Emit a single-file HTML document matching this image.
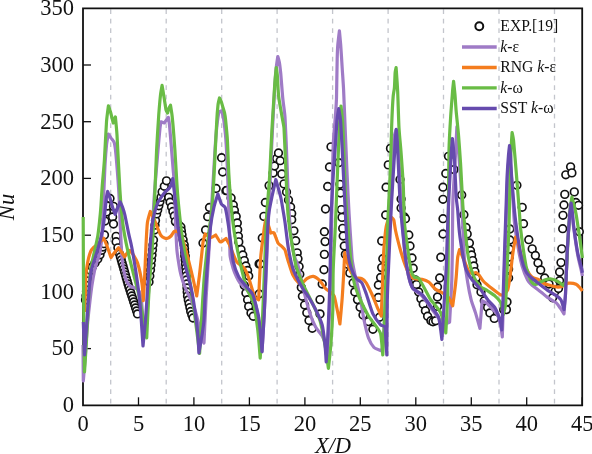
<!DOCTYPE html><html><head><meta charset="utf-8"><title>Nu vs X/D</title>
<style>html,body{margin:0;padding:0;background:#fff}svg{display:block}text{font-family:"Liberation Serif",serif;fill:#111}</style></head><body>
<svg width="592" height="454" viewBox="0 0 592 454">
<rect width="592" height="454" fill="#fff"/>
<line x1="110.7" y1="9.3" x2="110.7" y2="404.3" stroke="#c3c5cc" stroke-width="1.3" stroke-dasharray="4.7 4.8"/>
<line x1="166.2" y1="9.3" x2="166.2" y2="404.3" stroke="#c3c5cc" stroke-width="1.3" stroke-dasharray="4.7 4.8"/>
<line x1="221.7" y1="9.3" x2="221.7" y2="404.3" stroke="#c3c5cc" stroke-width="1.3" stroke-dasharray="4.7 4.8"/>
<line x1="277.1" y1="9.3" x2="277.1" y2="404.3" stroke="#c3c5cc" stroke-width="1.3" stroke-dasharray="4.7 4.8"/>
<line x1="332.6" y1="9.3" x2="332.6" y2="404.3" stroke="#c3c5cc" stroke-width="1.3" stroke-dasharray="4.7 4.8"/>
<line x1="388.1" y1="9.3" x2="388.1" y2="404.3" stroke="#c3c5cc" stroke-width="1.3" stroke-dasharray="4.7 4.8"/>
<line x1="443.5" y1="9.3" x2="443.5" y2="404.3" stroke="#c3c5cc" stroke-width="1.3" stroke-dasharray="4.7 4.8"/>
<line x1="499.0" y1="9.3" x2="499.0" y2="404.3" stroke="#c3c5cc" stroke-width="1.3" stroke-dasharray="4.7 4.8"/>
<line x1="554.5" y1="9.3" x2="554.5" y2="404.3" stroke="#c3c5cc" stroke-width="1.3" stroke-dasharray="4.7 4.8"/>
<path d="M83.0 8.3 V405.3 H582.2 V8.3 Z" fill="none" stroke="#111" stroke-width="1.8"/>
<text x="74.1" y="412.1" font-size="22.5" text-anchor="end">0</text>
<line x1="83.0" y1="348.6" x2="91.0" y2="348.6" stroke="#111" stroke-width="1.3"/>
<text x="74.1" y="355.4" font-size="22.5" text-anchor="end">50</text>
<line x1="83.0" y1="291.9" x2="91.0" y2="291.9" stroke="#111" stroke-width="1.3"/>
<text x="74.1" y="298.7" font-size="22.5" text-anchor="end">100</text>
<line x1="83.0" y1="235.2" x2="91.0" y2="235.2" stroke="#111" stroke-width="1.3"/>
<text x="74.1" y="242.0" font-size="22.5" text-anchor="end">150</text>
<line x1="83.0" y1="178.4" x2="91.0" y2="178.4" stroke="#111" stroke-width="1.3"/>
<text x="74.1" y="185.2" font-size="22.5" text-anchor="end">200</text>
<line x1="83.0" y1="121.7" x2="91.0" y2="121.7" stroke="#111" stroke-width="1.3"/>
<text x="74.1" y="128.5" font-size="22.5" text-anchor="end">250</text>
<line x1="83.0" y1="65.0" x2="91.0" y2="65.0" stroke="#111" stroke-width="1.3"/>
<text x="74.1" y="71.8" font-size="22.5" text-anchor="end">300</text>
<text x="74.1" y="15.1" font-size="22.5" text-anchor="end">350</text>
<text x="83.0" y="431.3" font-size="22.5" text-anchor="middle">0</text>
<line x1="138.5" y1="405.3" x2="138.5" y2="397.3" stroke="#111" stroke-width="1.3"/>
<text x="138.5" y="431.3" font-size="22.5" text-anchor="middle">5</text>
<line x1="193.9" y1="405.3" x2="193.9" y2="397.3" stroke="#111" stroke-width="1.3"/>
<text x="193.9" y="431.3" font-size="22.5" text-anchor="middle">10</text>
<line x1="249.4" y1="405.3" x2="249.4" y2="397.3" stroke="#111" stroke-width="1.3"/>
<text x="249.4" y="431.3" font-size="22.5" text-anchor="middle">15</text>
<line x1="304.9" y1="405.3" x2="304.9" y2="397.3" stroke="#111" stroke-width="1.3"/>
<text x="304.9" y="431.3" font-size="22.5" text-anchor="middle">20</text>
<line x1="360.3" y1="405.3" x2="360.3" y2="397.3" stroke="#111" stroke-width="1.3"/>
<text x="360.3" y="431.3" font-size="22.5" text-anchor="middle">25</text>
<line x1="415.8" y1="405.3" x2="415.8" y2="397.3" stroke="#111" stroke-width="1.3"/>
<text x="415.8" y="431.3" font-size="22.5" text-anchor="middle">30</text>
<line x1="471.3" y1="405.3" x2="471.3" y2="397.3" stroke="#111" stroke-width="1.3"/>
<text x="471.3" y="431.3" font-size="22.5" text-anchor="middle">35</text>
<line x1="526.7" y1="405.3" x2="526.7" y2="397.3" stroke="#111" stroke-width="1.3"/>
<text x="526.7" y="431.3" font-size="22.5" text-anchor="middle">40</text>
<line x1="582.2" y1="405.3" x2="582.2" y2="397.3" stroke="#111" stroke-width="1.3"/>
<text x="582.2" y="431.3" font-size="22.5" text-anchor="middle">45</text>
<circle cx="85.5" cy="300.0" r="3.85" fill="#fff" stroke="#111" stroke-width="1.65"/>
<circle cx="86.0" cy="295.7" r="3.85" fill="#fff" stroke="#111" stroke-width="1.65"/>
<circle cx="86.5" cy="291.3" r="3.85" fill="#fff" stroke="#111" stroke-width="1.65"/>
<circle cx="87.0" cy="287.0" r="3.85" fill="#fff" stroke="#111" stroke-width="1.65"/>
<circle cx="87.5" cy="282.5" r="3.85" fill="#fff" stroke="#111" stroke-width="1.65"/>
<circle cx="88.0" cy="278.0" r="3.85" fill="#fff" stroke="#111" stroke-width="1.65"/>
<circle cx="88.5" cy="273.5" r="3.85" fill="#fff" stroke="#111" stroke-width="1.65"/>
<circle cx="90.4" cy="270.2" r="3.85" fill="#fff" stroke="#111" stroke-width="1.65"/>
<circle cx="92.3" cy="266.9" r="3.85" fill="#fff" stroke="#111" stroke-width="1.65"/>
<circle cx="95.0" cy="262.9" r="3.85" fill="#fff" stroke="#111" stroke-width="1.65"/>
<circle cx="97.8" cy="259.0" r="3.85" fill="#fff" stroke="#111" stroke-width="1.65"/>
<circle cx="100.0" cy="254.7" r="3.85" fill="#fff" stroke="#111" stroke-width="1.65"/>
<circle cx="101.7" cy="250.3" r="3.85" fill="#fff" stroke="#111" stroke-width="1.65"/>
<circle cx="102.8" cy="247.0" r="3.85" fill="#fff" stroke="#111" stroke-width="1.65"/>
<circle cx="103.9" cy="243.7" r="3.85" fill="#fff" stroke="#111" stroke-width="1.65"/>
<circle cx="104.5" cy="235.0" r="3.85" fill="#fff" stroke="#111" stroke-width="1.65"/>
<circle cx="105.0" cy="221.0" r="3.85" fill="#fff" stroke="#111" stroke-width="1.65"/>
<circle cx="106.5" cy="212.0" r="3.85" fill="#fff" stroke="#111" stroke-width="1.65"/>
<circle cx="107.5" cy="206.0" r="3.85" fill="#fff" stroke="#111" stroke-width="1.65"/>
<circle cx="110.0" cy="198.5" r="3.85" fill="#fff" stroke="#111" stroke-width="1.65"/>
<circle cx="113.5" cy="206.4" r="3.85" fill="#fff" stroke="#111" stroke-width="1.65"/>
<circle cx="112.6" cy="217.0" r="3.85" fill="#fff" stroke="#111" stroke-width="1.65"/>
<circle cx="113.5" cy="224.0" r="3.85" fill="#fff" stroke="#111" stroke-width="1.65"/>
<circle cx="116.1" cy="236.4" r="3.85" fill="#fff" stroke="#111" stroke-width="1.65"/>
<circle cx="116.1" cy="241.7" r="3.85" fill="#fff" stroke="#111" stroke-width="1.65"/>
<circle cx="117.9" cy="247.8" r="3.85" fill="#fff" stroke="#111" stroke-width="1.65"/>
<circle cx="119.6" cy="254.0" r="3.85" fill="#fff" stroke="#111" stroke-width="1.65"/>
<circle cx="120.4" cy="257.0" r="3.85" fill="#fff" stroke="#111" stroke-width="1.65"/>
<circle cx="121.3" cy="260.0" r="3.85" fill="#fff" stroke="#111" stroke-width="1.65"/>
<circle cx="122.1" cy="263.0" r="3.85" fill="#fff" stroke="#111" stroke-width="1.65"/>
<circle cx="123.0" cy="266.0" r="3.85" fill="#fff" stroke="#111" stroke-width="1.65"/>
<circle cx="123.8" cy="269.0" r="3.85" fill="#fff" stroke="#111" stroke-width="1.65"/>
<circle cx="124.6" cy="272.0" r="3.85" fill="#fff" stroke="#111" stroke-width="1.65"/>
<circle cx="125.5" cy="275.0" r="3.85" fill="#fff" stroke="#111" stroke-width="1.65"/>
<circle cx="126.3" cy="278.0" r="3.85" fill="#fff" stroke="#111" stroke-width="1.65"/>
<circle cx="127.2" cy="281.0" r="3.85" fill="#fff" stroke="#111" stroke-width="1.65"/>
<circle cx="128.0" cy="284.0" r="3.85" fill="#fff" stroke="#111" stroke-width="1.65"/>
<circle cx="128.9" cy="287.0" r="3.85" fill="#fff" stroke="#111" stroke-width="1.65"/>
<circle cx="129.9" cy="290.0" r="3.85" fill="#fff" stroke="#111" stroke-width="1.65"/>
<circle cx="130.8" cy="293.0" r="3.85" fill="#fff" stroke="#111" stroke-width="1.65"/>
<circle cx="131.8" cy="296.0" r="3.85" fill="#fff" stroke="#111" stroke-width="1.65"/>
<circle cx="132.8" cy="298.9" r="3.85" fill="#fff" stroke="#111" stroke-width="1.65"/>
<circle cx="133.7" cy="301.9" r="3.85" fill="#fff" stroke="#111" stroke-width="1.65"/>
<circle cx="134.7" cy="304.9" r="3.85" fill="#fff" stroke="#111" stroke-width="1.65"/>
<circle cx="135.6" cy="307.9" r="3.85" fill="#fff" stroke="#111" stroke-width="1.65"/>
<circle cx="136.6" cy="310.9" r="3.85" fill="#fff" stroke="#111" stroke-width="1.65"/>
<circle cx="137.5" cy="313.9" r="3.85" fill="#fff" stroke="#111" stroke-width="1.65"/>
<circle cx="149.0" cy="282.0" r="3.85" fill="#fff" stroke="#111" stroke-width="1.65"/>
<circle cx="149.8" cy="276.0" r="3.85" fill="#fff" stroke="#111" stroke-width="1.65"/>
<circle cx="150.5" cy="270.0" r="3.85" fill="#fff" stroke="#111" stroke-width="1.65"/>
<circle cx="151.0" cy="265.0" r="3.85" fill="#fff" stroke="#111" stroke-width="1.65"/>
<circle cx="151.5" cy="260.0" r="3.85" fill="#fff" stroke="#111" stroke-width="1.65"/>
<circle cx="152.0" cy="255.0" r="3.85" fill="#fff" stroke="#111" stroke-width="1.65"/>
<circle cx="152.5" cy="250.0" r="3.85" fill="#fff" stroke="#111" stroke-width="1.65"/>
<circle cx="153.0" cy="245.0" r="3.85" fill="#fff" stroke="#111" stroke-width="1.65"/>
<circle cx="153.5" cy="240.0" r="3.85" fill="#fff" stroke="#111" stroke-width="1.65"/>
<circle cx="154.5" cy="230.0" r="3.85" fill="#fff" stroke="#111" stroke-width="1.65"/>
<circle cx="155.0" cy="225.2" r="3.85" fill="#fff" stroke="#111" stroke-width="1.65"/>
<circle cx="155.5" cy="220.5" r="3.85" fill="#fff" stroke="#111" stroke-width="1.65"/>
<circle cx="156.6" cy="213.9" r="3.85" fill="#fff" stroke="#111" stroke-width="1.65"/>
<circle cx="157.7" cy="209.9" r="3.85" fill="#fff" stroke="#111" stroke-width="1.65"/>
<circle cx="158.8" cy="205.8" r="3.85" fill="#fff" stroke="#111" stroke-width="1.65"/>
<circle cx="159.9" cy="201.8" r="3.85" fill="#fff" stroke="#111" stroke-width="1.65"/>
<circle cx="161.0" cy="197.4" r="3.85" fill="#fff" stroke="#111" stroke-width="1.65"/>
<circle cx="162.1" cy="191.9" r="3.85" fill="#fff" stroke="#111" stroke-width="1.65"/>
<circle cx="164.3" cy="186.3" r="3.85" fill="#fff" stroke="#111" stroke-width="1.65"/>
<circle cx="166.5" cy="180.8" r="3.85" fill="#fff" stroke="#111" stroke-width="1.65"/>
<circle cx="168.7" cy="197.4" r="3.85" fill="#fff" stroke="#111" stroke-width="1.65"/>
<circle cx="170.1" cy="202.2" r="3.85" fill="#fff" stroke="#111" stroke-width="1.65"/>
<circle cx="171.5" cy="207.0" r="3.85" fill="#fff" stroke="#111" stroke-width="1.65"/>
<circle cx="172.9" cy="211.5" r="3.85" fill="#fff" stroke="#111" stroke-width="1.65"/>
<circle cx="174.3" cy="216.0" r="3.85" fill="#fff" stroke="#111" stroke-width="1.65"/>
<circle cx="175.4" cy="221.6" r="3.85" fill="#fff" stroke="#111" stroke-width="1.65"/>
<circle cx="178.2" cy="224.3" r="3.85" fill="#fff" stroke="#111" stroke-width="1.65"/>
<circle cx="180.9" cy="227.0" r="3.85" fill="#fff" stroke="#111" stroke-width="1.65"/>
<circle cx="181.4" cy="230.9" r="3.85" fill="#fff" stroke="#111" stroke-width="1.65"/>
<circle cx="182.0" cy="234.8" r="3.85" fill="#fff" stroke="#111" stroke-width="1.65"/>
<circle cx="183.1" cy="239.8" r="3.85" fill="#fff" stroke="#111" stroke-width="1.65"/>
<circle cx="184.2" cy="244.7" r="3.85" fill="#fff" stroke="#111" stroke-width="1.65"/>
<circle cx="184.5" cy="248.5" r="3.85" fill="#fff" stroke="#111" stroke-width="1.65"/>
<circle cx="184.7" cy="252.2" r="3.85" fill="#fff" stroke="#111" stroke-width="1.65"/>
<circle cx="185.0" cy="256.0" r="3.85" fill="#fff" stroke="#111" stroke-width="1.65"/>
<circle cx="185.0" cy="256.0" r="3.85" fill="#fff" stroke="#111" stroke-width="1.65"/>
<circle cx="185.2" cy="260.0" r="3.85" fill="#fff" stroke="#111" stroke-width="1.65"/>
<circle cx="185.5" cy="264.0" r="3.85" fill="#fff" stroke="#111" stroke-width="1.65"/>
<circle cx="185.8" cy="268.0" r="3.85" fill="#fff" stroke="#111" stroke-width="1.65"/>
<circle cx="186.0" cy="272.0" r="3.85" fill="#fff" stroke="#111" stroke-width="1.65"/>
<circle cx="186.2" cy="276.0" r="3.85" fill="#fff" stroke="#111" stroke-width="1.65"/>
<circle cx="186.5" cy="280.0" r="3.85" fill="#fff" stroke="#111" stroke-width="1.65"/>
<circle cx="186.8" cy="284.0" r="3.85" fill="#fff" stroke="#111" stroke-width="1.65"/>
<circle cx="187.0" cy="288.0" r="3.85" fill="#fff" stroke="#111" stroke-width="1.65"/>
<circle cx="187.2" cy="292.0" r="3.85" fill="#fff" stroke="#111" stroke-width="1.65"/>
<circle cx="187.5" cy="296.0" r="3.85" fill="#fff" stroke="#111" stroke-width="1.65"/>
<circle cx="188.3" cy="299.9" r="3.85" fill="#fff" stroke="#111" stroke-width="1.65"/>
<circle cx="189.1" cy="303.8" r="3.85" fill="#fff" stroke="#111" stroke-width="1.65"/>
<circle cx="189.9" cy="307.6" r="3.85" fill="#fff" stroke="#111" stroke-width="1.65"/>
<circle cx="190.7" cy="311.5" r="3.85" fill="#fff" stroke="#111" stroke-width="1.65"/>
<circle cx="191.8" cy="314.8" r="3.85" fill="#fff" stroke="#111" stroke-width="1.65"/>
<circle cx="193.0" cy="318.0" r="3.85" fill="#fff" stroke="#111" stroke-width="1.65"/>
<circle cx="203.0" cy="243.0" r="3.85" fill="#fff" stroke="#111" stroke-width="1.65"/>
<circle cx="205.6" cy="230.0" r="3.85" fill="#fff" stroke="#111" stroke-width="1.65"/>
<circle cx="207.7" cy="216.7" r="3.85" fill="#fff" stroke="#111" stroke-width="1.65"/>
<circle cx="209.5" cy="207.5" r="3.85" fill="#fff" stroke="#111" stroke-width="1.65"/>
<circle cx="216.1" cy="188.5" r="3.85" fill="#fff" stroke="#111" stroke-width="1.65"/>
<circle cx="221.6" cy="157.7" r="3.85" fill="#fff" stroke="#111" stroke-width="1.65"/>
<circle cx="222.7" cy="172.0" r="3.85" fill="#fff" stroke="#111" stroke-width="1.65"/>
<circle cx="226.0" cy="190.7" r="3.85" fill="#fff" stroke="#111" stroke-width="1.65"/>
<circle cx="226.7" cy="190.5" r="3.85" fill="#fff" stroke="#111" stroke-width="1.65"/>
<circle cx="231.1" cy="198.0" r="3.85" fill="#fff" stroke="#111" stroke-width="1.65"/>
<circle cx="233.3" cy="205.0" r="3.85" fill="#fff" stroke="#111" stroke-width="1.65"/>
<circle cx="234.4" cy="210.3" r="3.85" fill="#fff" stroke="#111" stroke-width="1.65"/>
<circle cx="235.5" cy="215.8" r="3.85" fill="#fff" stroke="#111" stroke-width="1.65"/>
<circle cx="236.2" cy="216.5" r="3.85" fill="#fff" stroke="#111" stroke-width="1.65"/>
<circle cx="237.3" cy="223.0" r="3.85" fill="#fff" stroke="#111" stroke-width="1.65"/>
<circle cx="237.7" cy="229.7" r="3.85" fill="#fff" stroke="#111" stroke-width="1.65"/>
<circle cx="238.4" cy="236.3" r="3.85" fill="#fff" stroke="#111" stroke-width="1.65"/>
<circle cx="238.8" cy="241.9" r="3.85" fill="#fff" stroke="#111" stroke-width="1.65"/>
<circle cx="241.0" cy="249.6" r="3.85" fill="#fff" stroke="#111" stroke-width="1.65"/>
<circle cx="242.8" cy="255.0" r="3.85" fill="#fff" stroke="#111" stroke-width="1.65"/>
<circle cx="244.3" cy="260.6" r="3.85" fill="#fff" stroke="#111" stroke-width="1.65"/>
<circle cx="245.9" cy="266.0" r="3.85" fill="#fff" stroke="#111" stroke-width="1.65"/>
<circle cx="247.6" cy="270.5" r="3.85" fill="#fff" stroke="#111" stroke-width="1.65"/>
<circle cx="248.7" cy="276.0" r="3.85" fill="#fff" stroke="#111" stroke-width="1.65"/>
<circle cx="244.3" cy="285.5" r="3.85" fill="#fff" stroke="#111" stroke-width="1.65"/>
<circle cx="245.9" cy="293.0" r="3.85" fill="#fff" stroke="#111" stroke-width="1.65"/>
<circle cx="247.6" cy="299.8" r="3.85" fill="#fff" stroke="#111" stroke-width="1.65"/>
<circle cx="248.7" cy="306.4" r="3.85" fill="#fff" stroke="#111" stroke-width="1.65"/>
<circle cx="251.0" cy="313.0" r="3.85" fill="#fff" stroke="#111" stroke-width="1.65"/>
<circle cx="253.2" cy="316.3" r="3.85" fill="#fff" stroke="#111" stroke-width="1.65"/>
<circle cx="259.1" cy="294.0" r="3.85" fill="#fff" stroke="#111" stroke-width="1.65"/>
<circle cx="259.1" cy="263.9" r="3.85" fill="#fff" stroke="#111" stroke-width="1.65"/>
<circle cx="260.2" cy="264.0" r="3.85" fill="#fff" stroke="#111" stroke-width="1.65"/>
<circle cx="262.3" cy="238.0" r="3.85" fill="#fff" stroke="#111" stroke-width="1.65"/>
<circle cx="263.9" cy="216.4" r="3.85" fill="#fff" stroke="#111" stroke-width="1.65"/>
<circle cx="265.4" cy="202.5" r="3.85" fill="#fff" stroke="#111" stroke-width="1.65"/>
<circle cx="269.1" cy="185.6" r="3.85" fill="#fff" stroke="#111" stroke-width="1.65"/>
<circle cx="273.1" cy="173.0" r="3.85" fill="#fff" stroke="#111" stroke-width="1.65"/>
<circle cx="274.5" cy="166.0" r="3.85" fill="#fff" stroke="#111" stroke-width="1.65"/>
<circle cx="276.7" cy="158.5" r="3.85" fill="#fff" stroke="#111" stroke-width="1.65"/>
<circle cx="278.5" cy="153.0" r="3.85" fill="#fff" stroke="#111" stroke-width="1.65"/>
<circle cx="280.2" cy="160.7" r="3.85" fill="#fff" stroke="#111" stroke-width="1.65"/>
<circle cx="281.8" cy="174.0" r="3.85" fill="#fff" stroke="#111" stroke-width="1.65"/>
<circle cx="284.0" cy="183.9" r="3.85" fill="#fff" stroke="#111" stroke-width="1.65"/>
<circle cx="286.5" cy="192.0" r="3.85" fill="#fff" stroke="#111" stroke-width="1.65"/>
<circle cx="288.5" cy="200.0" r="3.85" fill="#fff" stroke="#111" stroke-width="1.65"/>
<circle cx="290.6" cy="207.0" r="3.85" fill="#fff" stroke="#111" stroke-width="1.65"/>
<circle cx="291.7" cy="213.6" r="3.85" fill="#fff" stroke="#111" stroke-width="1.65"/>
<circle cx="291.7" cy="219.8" r="3.85" fill="#fff" stroke="#111" stroke-width="1.65"/>
<circle cx="293.9" cy="230.8" r="3.85" fill="#fff" stroke="#111" stroke-width="1.65"/>
<circle cx="295.7" cy="240.7" r="3.85" fill="#fff" stroke="#111" stroke-width="1.65"/>
<circle cx="297.2" cy="252.9" r="3.85" fill="#fff" stroke="#111" stroke-width="1.65"/>
<circle cx="298.0" cy="258.8" r="3.85" fill="#fff" stroke="#111" stroke-width="1.65"/>
<circle cx="299.1" cy="266.5" r="3.85" fill="#fff" stroke="#111" stroke-width="1.65"/>
<circle cx="299.8" cy="274.2" r="3.85" fill="#fff" stroke="#111" stroke-width="1.65"/>
<circle cx="301.3" cy="287.4" r="3.85" fill="#fff" stroke="#111" stroke-width="1.65"/>
<circle cx="302.4" cy="296.3" r="3.85" fill="#fff" stroke="#111" stroke-width="1.65"/>
<circle cx="304.6" cy="305.0" r="3.85" fill="#fff" stroke="#111" stroke-width="1.65"/>
<circle cx="306.8" cy="312.8" r="3.85" fill="#fff" stroke="#111" stroke-width="1.65"/>
<circle cx="309.0" cy="320.5" r="3.85" fill="#fff" stroke="#111" stroke-width="1.65"/>
<circle cx="312.3" cy="328.2" r="3.85" fill="#fff" stroke="#111" stroke-width="1.65"/>
<circle cx="320.0" cy="313.9" r="3.85" fill="#fff" stroke="#111" stroke-width="1.65"/>
<circle cx="320.0" cy="299.6" r="3.85" fill="#fff" stroke="#111" stroke-width="1.65"/>
<circle cx="322.2" cy="284.0" r="3.85" fill="#fff" stroke="#111" stroke-width="1.65"/>
<circle cx="324.0" cy="269.8" r="3.85" fill="#fff" stroke="#111" stroke-width="1.65"/>
<circle cx="324.4" cy="254.4" r="3.85" fill="#fff" stroke="#111" stroke-width="1.65"/>
<circle cx="325.1" cy="241.6" r="3.85" fill="#fff" stroke="#111" stroke-width="1.65"/>
<circle cx="324.4" cy="231.7" r="3.85" fill="#fff" stroke="#111" stroke-width="1.65"/>
<circle cx="325.5" cy="209.0" r="3.85" fill="#fff" stroke="#111" stroke-width="1.65"/>
<circle cx="327.7" cy="186.5" r="3.85" fill="#fff" stroke="#111" stroke-width="1.65"/>
<circle cx="329.5" cy="167.0" r="3.85" fill="#fff" stroke="#111" stroke-width="1.65"/>
<circle cx="331.0" cy="146.8" r="3.85" fill="#fff" stroke="#111" stroke-width="1.65"/>
<circle cx="338.7" cy="162.7" r="3.85" fill="#fff" stroke="#111" stroke-width="1.65"/>
<circle cx="339.9" cy="184.3" r="3.85" fill="#fff" stroke="#111" stroke-width="1.65"/>
<circle cx="340.5" cy="193.0" r="3.85" fill="#fff" stroke="#111" stroke-width="1.65"/>
<circle cx="341.4" cy="209.6" r="3.85" fill="#fff" stroke="#111" stroke-width="1.65"/>
<circle cx="342.0" cy="217.4" r="3.85" fill="#fff" stroke="#111" stroke-width="1.65"/>
<circle cx="342.7" cy="228.4" r="3.85" fill="#fff" stroke="#111" stroke-width="1.65"/>
<circle cx="343.2" cy="236.0" r="3.85" fill="#fff" stroke="#111" stroke-width="1.65"/>
<circle cx="344.3" cy="246.0" r="3.85" fill="#fff" stroke="#111" stroke-width="1.65"/>
<circle cx="345.4" cy="254.4" r="3.85" fill="#fff" stroke="#111" stroke-width="1.65"/>
<circle cx="347.6" cy="264.3" r="3.85" fill="#fff" stroke="#111" stroke-width="1.65"/>
<circle cx="349.8" cy="273.0" r="3.85" fill="#fff" stroke="#111" stroke-width="1.65"/>
<circle cx="353.1" cy="283.0" r="3.85" fill="#fff" stroke="#111" stroke-width="1.65"/>
<circle cx="354.8" cy="291.9" r="3.85" fill="#fff" stroke="#111" stroke-width="1.65"/>
<circle cx="357.5" cy="299.6" r="3.85" fill="#fff" stroke="#111" stroke-width="1.65"/>
<circle cx="360.1" cy="307.3" r="3.85" fill="#fff" stroke="#111" stroke-width="1.65"/>
<circle cx="363.0" cy="315.0" r="3.85" fill="#fff" stroke="#111" stroke-width="1.65"/>
<circle cx="368.5" cy="321.6" r="3.85" fill="#fff" stroke="#111" stroke-width="1.65"/>
<circle cx="372.9" cy="329.3" r="3.85" fill="#fff" stroke="#111" stroke-width="1.65"/>
<circle cx="379.5" cy="317.2" r="3.85" fill="#fff" stroke="#111" stroke-width="1.65"/>
<circle cx="378.4" cy="297.4" r="3.85" fill="#fff" stroke="#111" stroke-width="1.65"/>
<circle cx="378.4" cy="285.0" r="3.85" fill="#fff" stroke="#111" stroke-width="1.65"/>
<circle cx="380.6" cy="277.5" r="3.85" fill="#fff" stroke="#111" stroke-width="1.65"/>
<circle cx="381.7" cy="267.6" r="3.85" fill="#fff" stroke="#111" stroke-width="1.65"/>
<circle cx="382.8" cy="258.8" r="3.85" fill="#fff" stroke="#111" stroke-width="1.65"/>
<circle cx="381.7" cy="241.0" r="3.85" fill="#fff" stroke="#111" stroke-width="1.65"/>
<circle cx="385.7" cy="215.0" r="3.85" fill="#fff" stroke="#111" stroke-width="1.65"/>
<circle cx="386.1" cy="187.2" r="3.85" fill="#fff" stroke="#111" stroke-width="1.65"/>
<circle cx="388.3" cy="164.9" r="3.85" fill="#fff" stroke="#111" stroke-width="1.65"/>
<circle cx="390.5" cy="148.4" r="3.85" fill="#fff" stroke="#111" stroke-width="1.65"/>
<circle cx="400.0" cy="179.5" r="3.85" fill="#fff" stroke="#111" stroke-width="1.65"/>
<circle cx="401.1" cy="199.0" r="3.85" fill="#fff" stroke="#111" stroke-width="1.65"/>
<circle cx="401.1" cy="208.0" r="3.85" fill="#fff" stroke="#111" stroke-width="1.65"/>
<circle cx="404.4" cy="217.0" r="3.85" fill="#fff" stroke="#111" stroke-width="1.65"/>
<circle cx="405.5" cy="218.7" r="3.85" fill="#fff" stroke="#111" stroke-width="1.65"/>
<circle cx="408.8" cy="235.0" r="3.85" fill="#fff" stroke="#111" stroke-width="1.65"/>
<circle cx="410.0" cy="246.0" r="3.85" fill="#fff" stroke="#111" stroke-width="1.65"/>
<circle cx="412.0" cy="258.0" r="3.85" fill="#fff" stroke="#111" stroke-width="1.65"/>
<circle cx="413.2" cy="268.3" r="3.85" fill="#fff" stroke="#111" stroke-width="1.65"/>
<circle cx="415.4" cy="280.0" r="3.85" fill="#fff" stroke="#111" stroke-width="1.65"/>
<circle cx="416.5" cy="284.4" r="3.85" fill="#fff" stroke="#111" stroke-width="1.65"/>
<circle cx="418.7" cy="292.0" r="3.85" fill="#fff" stroke="#111" stroke-width="1.65"/>
<circle cx="420.9" cy="298.7" r="3.85" fill="#fff" stroke="#111" stroke-width="1.65"/>
<circle cx="423.2" cy="304.2" r="3.85" fill="#fff" stroke="#111" stroke-width="1.65"/>
<circle cx="425.4" cy="310.8" r="3.85" fill="#fff" stroke="#111" stroke-width="1.65"/>
<circle cx="427.6" cy="316.3" r="3.85" fill="#fff" stroke="#111" stroke-width="1.65"/>
<circle cx="430.9" cy="320.7" r="3.85" fill="#fff" stroke="#111" stroke-width="1.65"/>
<circle cx="433.0" cy="321.8" r="3.85" fill="#fff" stroke="#111" stroke-width="1.65"/>
<circle cx="435.7" cy="320.7" r="3.85" fill="#fff" stroke="#111" stroke-width="1.65"/>
<circle cx="437.5" cy="306.4" r="3.85" fill="#fff" stroke="#111" stroke-width="1.65"/>
<circle cx="437.5" cy="297.0" r="3.85" fill="#fff" stroke="#111" stroke-width="1.65"/>
<circle cx="437.5" cy="287.0" r="3.85" fill="#fff" stroke="#111" stroke-width="1.65"/>
<circle cx="439.7" cy="278.0" r="3.85" fill="#fff" stroke="#111" stroke-width="1.65"/>
<circle cx="440.8" cy="257.3" r="3.85" fill="#fff" stroke="#111" stroke-width="1.65"/>
<circle cx="443.0" cy="234.0" r="3.85" fill="#fff" stroke="#111" stroke-width="1.65"/>
<circle cx="443.0" cy="218.7" r="3.85" fill="#fff" stroke="#111" stroke-width="1.65"/>
<circle cx="443.0" cy="199.3" r="3.85" fill="#fff" stroke="#111" stroke-width="1.65"/>
<circle cx="443.0" cy="187.2" r="3.85" fill="#fff" stroke="#111" stroke-width="1.65"/>
<circle cx="445.8" cy="173.5" r="3.85" fill="#fff" stroke="#111" stroke-width="1.65"/>
<circle cx="448.5" cy="156.3" r="3.85" fill="#fff" stroke="#111" stroke-width="1.65"/>
<circle cx="454.0" cy="169.6" r="3.85" fill="#fff" stroke="#111" stroke-width="1.65"/>
<circle cx="461.7" cy="195.0" r="3.85" fill="#fff" stroke="#111" stroke-width="1.65"/>
<circle cx="463.9" cy="214.7" r="3.85" fill="#fff" stroke="#111" stroke-width="1.65"/>
<circle cx="466.1" cy="227.5" r="3.85" fill="#fff" stroke="#111" stroke-width="1.65"/>
<circle cx="467.2" cy="234.0" r="3.85" fill="#fff" stroke="#111" stroke-width="1.65"/>
<circle cx="469.4" cy="243.0" r="3.85" fill="#fff" stroke="#111" stroke-width="1.65"/>
<circle cx="470.5" cy="250.7" r="3.85" fill="#fff" stroke="#111" stroke-width="1.65"/>
<circle cx="471.6" cy="255.0" r="3.85" fill="#fff" stroke="#111" stroke-width="1.65"/>
<circle cx="472.7" cy="260.6" r="3.85" fill="#fff" stroke="#111" stroke-width="1.65"/>
<circle cx="473.8" cy="266.0" r="3.85" fill="#fff" stroke="#111" stroke-width="1.65"/>
<circle cx="474.9" cy="271.6" r="3.85" fill="#fff" stroke="#111" stroke-width="1.65"/>
<circle cx="476.0" cy="278.2" r="3.85" fill="#fff" stroke="#111" stroke-width="1.65"/>
<circle cx="477.0" cy="284.8" r="3.85" fill="#fff" stroke="#111" stroke-width="1.65"/>
<circle cx="481.0" cy="292.0" r="3.85" fill="#fff" stroke="#111" stroke-width="1.65"/>
<circle cx="484.3" cy="300.7" r="3.85" fill="#fff" stroke="#111" stroke-width="1.65"/>
<circle cx="487.6" cy="307.4" r="3.85" fill="#fff" stroke="#111" stroke-width="1.65"/>
<circle cx="489.9" cy="312.9" r="3.85" fill="#fff" stroke="#111" stroke-width="1.65"/>
<circle cx="494.3" cy="318.4" r="3.85" fill="#fff" stroke="#111" stroke-width="1.65"/>
<circle cx="503.7" cy="309.7" r="3.85" fill="#fff" stroke="#111" stroke-width="1.65"/>
<circle cx="506.4" cy="309.6" r="3.85" fill="#fff" stroke="#111" stroke-width="1.65"/>
<circle cx="507.0" cy="301.9" r="3.85" fill="#fff" stroke="#111" stroke-width="1.65"/>
<circle cx="508.6" cy="278.0" r="3.85" fill="#fff" stroke="#111" stroke-width="1.65"/>
<circle cx="508.6" cy="269.0" r="3.85" fill="#fff" stroke="#111" stroke-width="1.65"/>
<circle cx="509.3" cy="257.0" r="3.85" fill="#fff" stroke="#111" stroke-width="1.65"/>
<circle cx="509.3" cy="249.0" r="3.85" fill="#fff" stroke="#111" stroke-width="1.65"/>
<circle cx="509.9" cy="240.0" r="3.85" fill="#fff" stroke="#111" stroke-width="1.65"/>
<circle cx="509.9" cy="229.0" r="3.85" fill="#fff" stroke="#111" stroke-width="1.65"/>
<circle cx="516.9" cy="185.3" r="3.85" fill="#fff" stroke="#111" stroke-width="1.65"/>
<circle cx="522.2" cy="207.3" r="3.85" fill="#fff" stroke="#111" stroke-width="1.65"/>
<circle cx="523.5" cy="223.7" r="3.85" fill="#fff" stroke="#111" stroke-width="1.65"/>
<circle cx="528.8" cy="239.7" r="3.85" fill="#fff" stroke="#111" stroke-width="1.65"/>
<circle cx="532.2" cy="248.9" r="3.85" fill="#fff" stroke="#111" stroke-width="1.65"/>
<circle cx="535.4" cy="255.5" r="3.85" fill="#fff" stroke="#111" stroke-width="1.65"/>
<circle cx="538.0" cy="263.0" r="3.85" fill="#fff" stroke="#111" stroke-width="1.65"/>
<circle cx="540.7" cy="270.0" r="3.85" fill="#fff" stroke="#111" stroke-width="1.65"/>
<circle cx="544.7" cy="278.0" r="3.85" fill="#fff" stroke="#111" stroke-width="1.65"/>
<circle cx="549.0" cy="284.0" r="3.85" fill="#fff" stroke="#111" stroke-width="1.65"/>
<circle cx="552.6" cy="297.8" r="3.85" fill="#fff" stroke="#111" stroke-width="1.65"/>
<circle cx="555.2" cy="291.2" r="3.85" fill="#fff" stroke="#111" stroke-width="1.65"/>
<circle cx="558.5" cy="288.5" r="3.85" fill="#fff" stroke="#111" stroke-width="1.65"/>
<circle cx="559.6" cy="280.8" r="3.85" fill="#fff" stroke="#111" stroke-width="1.65"/>
<circle cx="559.6" cy="272.0" r="3.85" fill="#fff" stroke="#111" stroke-width="1.65"/>
<circle cx="561.0" cy="262.6" r="3.85" fill="#fff" stroke="#111" stroke-width="1.65"/>
<circle cx="561.8" cy="248.8" r="3.85" fill="#fff" stroke="#111" stroke-width="1.65"/>
<circle cx="562.7" cy="228.7" r="3.85" fill="#fff" stroke="#111" stroke-width="1.65"/>
<circle cx="563.0" cy="215.3" r="3.85" fill="#fff" stroke="#111" stroke-width="1.65"/>
<circle cx="564.0" cy="205.0" r="3.85" fill="#fff" stroke="#111" stroke-width="1.65"/>
<circle cx="564.8" cy="194.4" r="3.85" fill="#fff" stroke="#111" stroke-width="1.65"/>
<circle cx="565.8" cy="174.8" r="3.85" fill="#fff" stroke="#111" stroke-width="1.65"/>
<circle cx="570.6" cy="166.8" r="3.85" fill="#fff" stroke="#111" stroke-width="1.65"/>
<circle cx="571.9" cy="172.9" r="3.85" fill="#fff" stroke="#111" stroke-width="1.65"/>
<circle cx="574.3" cy="191.9" r="3.85" fill="#fff" stroke="#111" stroke-width="1.65"/>
<circle cx="575.9" cy="202.5" r="3.85" fill="#fff" stroke="#111" stroke-width="1.65"/>
<circle cx="578.5" cy="205.3" r="3.85" fill="#fff" stroke="#111" stroke-width="1.65"/>
<circle cx="579.3" cy="231.7" r="3.85" fill="#fff" stroke="#111" stroke-width="1.65"/>
<path d="M83.0 345.0 C83.0 345.0 83.3 381.0 83.3 381.0 C83.3 381.0 84.6 365.6 85.0 360.0 C85.4 354.4 86.5 336.7 87.0 330.0 C87.5 323.3 88.9 310.3 89.5 305.0 C90.1 299.7 91.4 288.8 92.0 285.0 C92.6 281.2 94.0 273.4 94.5 271.0 C95.0 268.6 96.3 264.4 97.0 262.0 C97.7 259.6 99.5 254.7 100.0 252.0 C100.5 249.3 101.7 239.6 102.0 235.0 C102.3 230.4 103.1 209.3 103.5 200.0 C103.9 190.7 104.7 170.3 105.0 165.0 C105.3 159.7 106.2 148.0 106.5 145.0 C106.8 142.0 108.4 134.0 108.4 134.0 C108.4 134.0 110.3 136.9 111.0 138.0 C111.7 139.1 113.9 141.4 114.3 142.9 C114.7 144.4 115.7 151.8 116.0 155.0 C116.3 158.2 118.1 180.7 118.7 190.0 C119.3 199.3 120.1 222.5 120.5 230.0 C120.9 237.5 121.5 252.7 122.0 258.0 C122.5 263.3 124.7 275.0 125.4 277.5 C126.1 280.0 128.3 284.4 130.0 286.0 C131.7 287.6 136.6 287.7 138.0 289.5 C139.4 291.3 141.1 297.8 141.5 301.0 C141.9 304.2 144.0 335.0 144.0 335.0 C144.0 335.0 145.9 331.4 146.0 330.0 C146.1 328.6 149.0 286.0 150.0 270.0 C151.0 254.0 153.1 213.3 154.0 200.0 C154.9 186.7 157.5 155.9 158.0 150.0 C158.5 144.1 159.8 129.7 160.0 128.0 C160.2 126.3 161.0 121.8 161.0 121.8 C161.0 121.8 164.3 122.9 164.3 122.9 C164.3 122.9 166.0 120.7 166.5 120.0 C167.0 119.3 168.3 117.4 168.3 117.4 C168.3 117.4 169.3 123.0 169.5 125.0 C169.7 127.0 170.6 138.0 171.0 142.7 C171.4 147.4 172.9 166.5 173.2 170.0 C173.5 173.5 174.1 179.5 174.3 183.0 C174.5 186.5 175.2 212.0 175.5 220.0 C175.8 228.0 176.6 246.0 176.9 250.0 C177.2 254.0 178.6 262.3 179.0 265.0 C179.4 267.7 180.3 272.4 181.0 275.0 C181.7 277.6 184.2 285.3 185.3 288.0 C186.4 290.7 188.8 295.3 190.0 298.0 C191.2 300.7 193.9 306.7 195.0 310.0 C196.1 313.3 198.1 321.5 199.0 325.0 C199.9 328.5 201.6 336.6 202.0 338.0 C202.4 339.4 204.0 343.0 204.0 343.0 C204.0 343.0 205.4 311.5 206.0 300.0 C206.6 288.5 208.2 263.3 209.0 250.0 C209.8 236.7 211.2 213.3 212.0 200.0 C212.8 186.7 214.6 156.7 215.0 150.0 C215.4 143.3 216.6 128.5 217.0 125.0 C217.4 121.5 218.8 112.7 219.0 112.0 C219.2 111.3 221.6 110.7 221.6 110.7 C221.6 110.7 223.2 116.0 223.5 118.0 C223.8 120.0 225.1 130.5 225.5 135.0 C225.9 139.5 226.7 153.3 227.0 160.0 C227.3 166.7 228.2 189.3 228.5 200.0 C228.8 210.7 229.8 251.4 230.0 255.0 C230.2 258.6 232.3 265.5 233.0 268.0 C233.7 270.5 235.8 275.3 236.6 277.0 C237.4 278.7 238.9 281.6 240.0 283.0 C241.1 284.4 245.4 287.9 247.0 290.0 C248.6 292.1 253.8 298.3 255.0 302.0 C256.2 305.7 259.2 324.2 260.0 330.0 C260.8 335.8 262.0 352.0 262.0 352.0 C262.0 352.0 264.3 313.9 265.0 300.0 C265.7 286.1 267.2 248.7 268.0 230.0 C268.8 211.3 270.3 176.0 271.0 160.0 C271.7 144.0 273.6 108.0 274.0 100.0 C274.4 92.0 275.7 73.6 276.0 70.0 C276.3 66.4 277.8 56.5 277.8 56.5 C277.8 56.5 279.0 60.5 279.3 62.0 C279.6 63.5 280.4 70.1 280.7 73.0 C281.0 75.9 282.4 94.8 282.9 99.5 C283.4 104.2 284.7 112.3 285.0 117.0 C285.3 121.7 286.1 141.2 286.5 150.0 C286.9 158.8 287.6 180.7 288.0 190.0 C288.4 199.3 289.6 219.7 290.0 225.0 C290.4 230.3 291.5 241.5 292.0 245.0 C292.5 248.5 294.4 256.0 295.0 258.0 C295.6 260.0 297.5 263.3 298.0 265.4 C298.5 267.5 303.3 288.7 304.6 294.0 C305.9 299.3 308.9 310.3 310.1 313.9 C311.3 317.5 314.2 324.4 315.6 327.0 C317.0 329.6 321.0 333.8 322.2 336.0 C323.4 338.2 325.0 342.5 325.5 345.0 C326.0 347.5 327.0 360.0 327.0 360.0 C327.0 360.0 329.5 316.0 330.0 300.0 C330.5 284.0 331.7 214.7 332.0 200.0 C332.3 185.3 332.9 153.0 333.2 145.0 C333.5 137.0 335.2 119.5 335.5 115.0 C335.8 110.5 336.4 102.5 336.5 98.0 C336.6 93.5 337.1 62.1 337.2 58.5 C337.3 54.9 337.5 48.6 337.8 45.0 C338.1 41.4 339.4 30.9 339.4 30.9 C339.4 30.9 340.4 41.2 340.7 45.0 C341.0 48.8 341.7 59.7 342.0 65.0 C342.3 70.3 343.3 83.3 343.6 90.0 C343.9 96.7 345.0 124.4 345.4 134.0 C345.8 143.6 346.5 160.4 346.9 170.0 C347.3 179.6 348.4 202.3 349.1 214.0 C349.8 225.7 351.6 253.4 352.0 258.0 C352.4 262.6 354.5 272.3 355.0 275.0 C355.5 277.7 356.9 282.3 357.5 285.0 C358.1 287.7 360.0 296.5 360.8 300.7 C361.6 304.9 363.1 315.8 364.1 320.5 C365.1 325.2 367.5 335.3 368.5 338.0 C369.5 340.7 372.9 346.3 374.0 347.5 C375.1 348.7 378.8 349.7 379.5 350.0 C380.2 350.3 382.0 351.0 382.0 351.0 C382.0 351.0 383.6 335.6 384.0 330.0 C384.4 324.4 385.5 300.7 386.0 290.0 C386.5 279.3 387.9 244.7 388.5 230.0 C389.1 215.3 390.5 184.3 391.0 175.0 C391.5 165.7 393.2 142.7 393.5 140.0 C393.8 137.3 396.0 130.0 396.0 130.0 C396.0 130.0 398.1 144.6 398.5 150.0 C398.9 155.4 400.3 188.3 401.0 200.0 C401.7 211.7 403.5 238.1 404.0 244.0 C404.5 249.9 405.9 261.7 406.6 266.0 C407.3 270.3 409.4 280.0 410.0 282.0 C410.6 284.0 411.9 287.4 413.2 289.0 C414.5 290.6 420.0 293.8 422.0 296.0 C424.0 298.2 428.5 304.8 430.9 308.0 C433.3 311.2 438.5 318.6 440.0 320.0 C441.5 321.4 446.3 322.8 447.0 323.0 C447.7 323.2 449.5 322.7 449.6 322.0 C449.7 321.3 450.4 307.3 450.7 302.0 C451.0 296.7 451.6 285.9 451.8 280.0 C452.0 274.1 452.3 253.6 452.4 244.0 C452.5 234.4 452.6 209.6 452.9 200.0 C453.2 190.4 454.5 173.6 455.0 164.0 C455.5 154.4 456.9 126.6 456.9 126.6 C456.9 126.6 458.9 155.2 459.5 164.0 C460.1 172.8 461.2 188.2 461.7 197.0 C462.2 205.8 462.6 222.0 463.0 230.0 C463.4 238.0 463.9 253.8 464.5 260.0 C465.1 266.2 467.1 278.5 467.8 283.0 C468.5 287.5 470.2 296.0 471.1 299.6 C472.0 303.2 474.4 309.3 475.5 312.9 C476.6 316.5 479.9 328.3 479.9 328.3 C479.9 328.3 480.7 318.5 481.0 315.0 C481.3 311.5 482.1 300.7 482.1 300.7 C482.1 300.7 485.5 302.2 486.5 303.0 C487.5 303.8 490.6 307.0 492.0 308.5 C493.4 310.0 496.6 313.0 497.6 315.0 C498.6 317.0 499.9 322.3 500.5 325.0 C501.1 327.7 502.3 337.0 502.3 337.0 C502.3 337.0 503.2 309.9 503.5 300.0 C503.8 290.1 504.6 265.5 505.0 252.9 C505.4 240.3 506.5 208.0 506.8 200.0 C507.1 192.0 507.8 174.0 508.0 170.0 C508.2 166.0 509.5 155.0 509.5 155.0 C509.5 155.0 510.7 166.0 511.0 170.0 C511.3 174.0 512.6 194.4 513.0 200.0 C513.4 205.6 513.7 215.4 514.3 221.0 C514.9 226.6 517.4 243.2 518.2 248.0 C519.0 252.8 521.0 262.2 522.1 266.0 C523.2 269.8 526.9 278.6 527.6 280.0 C528.3 281.4 530.2 283.5 531.4 284.6 C532.6 285.7 539.1 290.5 540.9 291.9 C542.7 293.3 545.6 296.1 547.5 297.4 C549.4 298.7 554.9 301.7 556.3 302.9 C557.7 304.1 559.5 307.0 560.5 308.4 C561.5 309.8 564.0 313.9 564.0 313.9 C564.0 313.9 565.2 299.3 565.5 294.0 C565.8 288.7 566.8 259.3 567.3 250.0 C567.8 240.7 569.6 217.2 569.8 215.0 C570.0 212.8 571.1 207.0 571.1 207.0 C571.1 207.0 572.1 212.1 572.3 214.0 C572.5 215.9 573.2 224.3 573.7 228.0 C574.2 231.7 576.9 250.4 577.7 255.0 C578.5 259.6 581.4 270.9 581.6 272.0 C581.8 273.1 582.4 276.0 582.4 276.0" fill="none" stroke="#9f7bc6" stroke-width="3.2" stroke-linejoin="round" stroke-linecap="butt"/>
<path d="M84.5 312.0 C84.5 312.0 85.1 299.5 85.3 295.0 C85.5 290.5 85.6 278.7 85.9 275.0 C86.2 271.3 87.4 264.0 87.9 261.3 C88.4 258.6 90.2 252.6 90.7 251.4 C91.2 250.2 92.6 248.4 93.4 247.6 C94.2 246.8 96.1 245.8 97.0 245.0 C97.9 244.2 99.7 242.4 100.5 241.5 C101.3 240.6 103.6 238.2 103.6 238.2 C103.6 238.2 106.2 243.9 107.0 246.0 C107.8 248.1 111.0 257.5 111.0 257.5 C111.0 257.5 114.1 253.2 115.0 252.0 C115.9 250.8 118.5 247.8 118.5 247.8 C118.5 247.8 120.7 250.9 121.5 252.0 C122.3 253.1 124.6 256.8 124.6 256.8 C124.6 256.8 127.0 253.1 127.5 252.5 C128.0 251.9 129.8 250.4 129.8 250.4 C129.8 250.4 132.7 253.7 133.5 255.0 C134.3 256.3 136.8 260.6 137.5 262.8 C138.2 265.0 141.2 278.3 141.9 283.0 C142.6 287.7 143.3 300.6 143.3 300.6 C143.3 300.6 144.2 285.5 144.5 280.0 C144.8 274.5 145.7 251.0 146.0 245.0 C146.3 239.0 147.0 225.8 147.4 222.7 C147.8 219.6 150.3 211.5 150.3 211.5 C150.3 211.5 152.3 215.5 153.0 217.0 C153.7 218.5 154.9 221.2 155.5 222.7 C156.1 224.2 157.3 227.3 158.0 229.0 C158.7 230.7 160.3 234.6 161.0 235.5 C161.7 236.4 163.7 237.7 164.5 238.0 C165.3 238.3 166.8 238.5 167.6 238.3 C168.4 238.1 170.2 236.8 171.0 236.0 C171.8 235.2 173.4 232.0 174.3 231.5 C175.2 231.0 177.2 231.5 178.0 232.0 C178.8 232.5 181.4 235.1 182.0 236.6 C182.6 238.1 186.1 251.1 187.5 256.4 C188.9 261.7 191.9 273.9 193.0 278.5 C194.1 283.1 196.7 296.0 196.7 296.0 C196.7 296.0 198.9 279.9 199.6 274.0 C200.3 268.1 202.6 245.7 202.9 243.2 C203.2 240.7 205.1 234.0 205.1 234.0 C205.1 234.0 207.2 235.5 208.0 236.0 C208.8 236.5 210.4 237.5 211.3 237.4 C212.2 237.3 215.7 235.0 215.7 235.0 C215.7 235.0 219.1 240.6 219.4 241.0 C219.7 241.4 220.7 242.0 221.2 241.9 C221.7 241.8 223.2 240.4 223.8 240.0 C224.4 239.6 226.0 238.5 226.0 238.5 C226.0 238.5 229.1 243.9 230.0 246.0 C230.9 248.1 235.1 259.4 236.6 261.7 C238.1 264.0 242.7 266.1 244.3 268.3 C245.9 270.5 247.7 275.3 248.7 278.0 C249.7 280.7 252.7 291.1 253.2 292.5 C253.7 293.9 254.8 296.8 255.4 297.6 C256.0 298.4 258.7 299.8 258.7 299.8 C258.7 299.8 259.2 285.3 259.5 280.0 C259.8 274.7 260.3 261.6 260.9 255.0 C261.5 248.4 263.9 231.0 264.2 228.6 C264.5 226.2 265.7 219.8 265.7 219.8 C265.7 219.8 267.5 222.8 268.0 224.0 C268.5 225.2 270.8 233.0 270.8 233.0 C270.8 233.0 273.6 232.3 274.1 233.0 C274.6 233.7 277.3 241.8 278.0 243.0 C278.7 244.2 280.9 245.4 281.8 246.3 C282.7 247.2 284.5 248.8 285.0 250.0 C285.5 251.2 287.4 258.6 288.4 261.7 C289.4 264.8 291.7 272.6 292.8 274.9 C293.9 277.2 297.5 281.9 298.3 282.6 C299.1 283.3 301.4 283.5 302.4 283.0 C303.4 282.5 305.4 279.5 306.8 278.6 C308.2 277.7 311.6 276.1 313.4 276.4 C315.2 276.7 318.5 279.3 320.0 280.8 C321.5 282.3 324.5 287.4 325.5 288.5 C326.5 289.6 328.9 291.0 330.0 292.0 C331.1 293.0 333.7 294.8 334.3 296.3 C334.9 297.8 336.9 308.4 337.6 311.7 C338.3 315.0 339.9 324.0 339.9 324.0 C339.9 324.0 341.5 306.9 342.0 300.7 C342.5 294.5 343.5 277.2 343.8 272.0 C344.1 266.8 344.7 252.6 344.7 252.6 C344.7 252.6 345.6 256.6 346.0 258.0 C346.4 259.4 348.7 267.5 349.8 269.8 C350.9 272.1 353.9 276.5 355.3 277.5 C356.7 278.5 360.4 277.9 361.9 278.6 C363.4 279.3 365.4 281.6 366.3 283.0 C367.2 284.4 370.4 291.0 371.8 294.0 C373.2 297.0 376.3 305.0 377.3 307.3 C378.3 309.6 381.3 316.0 381.3 316.0 C381.3 316.0 382.2 290.5 382.5 283.0 C382.8 275.5 383.2 260.1 383.5 255.0 C383.8 249.9 384.7 238.9 385.0 236.0 C385.3 233.1 386.1 226.7 386.5 225.0 C386.9 223.3 388.5 219.7 389.0 219.0 C389.5 218.3 391.6 217.4 391.6 217.4 C391.6 217.4 393.5 219.1 393.8 220.0 C394.1 220.9 395.0 227.9 395.6 230.8 C396.2 233.7 398.7 243.8 400.0 248.5 C401.3 253.2 404.3 262.9 405.5 266.0 C406.7 269.1 410.1 275.9 411.0 277.0 C411.9 278.1 414.6 278.7 416.0 279.0 C417.4 279.3 420.4 278.9 422.0 279.3 C423.6 279.7 427.1 280.9 428.7 282.0 C430.3 283.1 433.7 287.8 435.3 289.0 C436.9 290.2 440.2 291.4 441.9 292.5 C443.6 293.6 447.1 295.9 448.5 297.6 C449.9 299.3 452.7 305.8 452.7 305.8 C452.7 305.8 454.2 294.7 454.7 291.0 C455.2 287.3 455.9 280.7 456.2 277.0 C456.5 273.3 457.4 259.4 457.7 257.3 C458.0 255.2 459.5 249.6 459.5 249.6 C459.5 249.6 461.9 255.2 462.8 257.3 C463.7 259.4 467.7 269.4 468.3 270.5 C468.9 271.6 471.0 273.2 472.0 273.5 C473.0 273.8 475.1 272.3 476.0 272.5 C476.9 272.7 478.3 274.2 479.0 275.0 C479.7 275.8 481.9 279.6 483.2 281.0 C484.5 282.4 489.7 286.8 492.0 288.6 C494.3 290.4 499.7 294.6 500.9 295.0 C502.1 295.4 504.1 293.6 505.0 293.0 C505.9 292.4 507.3 291.0 507.7 290.0 C508.1 289.0 509.1 282.7 509.5 280.0 C509.9 277.3 510.7 271.2 511.1 268.0 C511.5 264.8 512.3 256.9 512.9 252.9 C513.5 248.9 515.6 237.0 515.6 237.0 C515.6 237.0 517.5 241.4 518.0 243.0 C518.5 244.6 520.9 254.7 522.0 258.0 C523.1 261.3 525.9 268.0 527.0 270.0 C528.1 272.0 530.5 275.8 532.0 277.0 C533.5 278.2 537.4 279.0 538.7 279.7 C540.0 280.4 541.9 282.4 543.0 283.0 C544.1 283.6 546.1 284.3 547.3 284.6 C548.5 284.9 556.5 287.1 557.9 287.2 C559.3 287.3 561.7 286.5 563.0 286.0 C564.3 285.5 566.8 283.4 568.4 283.2 C570.0 283.0 574.6 283.6 576.1 284.3 C577.6 285.0 579.9 287.9 580.5 288.5 C581.1 289.1 582.4 291.0 582.4 291.0" fill="none" stroke="#f47d1e" stroke-width="3.2" stroke-linejoin="round" stroke-linecap="butt"/>
<path d="M83.2 217.0 C83.2 217.0 83.4 280.8 83.6 300.0 C83.8 319.2 84.5 372.0 84.5 372.0 C84.5 372.0 86.2 345.3 86.5 340.0 C86.8 334.7 87.2 325.3 87.5 320.0 C87.8 314.7 88.2 305.3 88.5 300.0 C88.8 294.7 89.5 279.6 90.0 275.0 C90.5 270.4 92.4 261.0 93.0 258.0 C93.6 255.0 94.9 249.9 95.5 247.0 C96.1 244.1 97.3 239.0 97.8 236.0 C98.3 233.0 99.1 225.7 99.5 222.0 C99.9 218.3 100.7 209.5 101.0 205.0 C101.3 200.5 101.9 190.3 102.3 185.0 C102.7 179.7 104.0 166.7 104.4 160.0 C104.8 153.3 106.2 126.3 106.5 122.0 C106.8 117.7 108.4 105.9 108.4 105.9 C108.4 105.9 110.0 110.3 110.5 112.0 C111.0 113.7 113.2 123.0 113.2 123.0 C113.2 123.0 115.4 116.9 115.4 116.9 C115.4 116.9 116.7 130.2 117.0 135.0 C117.3 139.8 119.3 180.7 119.9 190.0 C120.5 199.3 122.1 218.3 123.0 225.0 C123.9 231.7 126.3 244.1 127.6 250.0 C128.9 255.9 131.5 266.1 133.0 272.0 C134.5 277.9 137.3 288.1 138.6 294.0 C139.9 299.9 143.2 318.6 144.0 322.7 C144.8 326.8 146.7 338.0 146.7 338.0 C146.7 338.0 148.1 308.0 148.5 300.0 C148.9 292.0 150.1 275.3 150.5 270.0 C150.9 264.7 151.9 255.3 152.2 250.0 C152.5 244.7 153.9 217.0 154.4 205.0 C154.9 193.0 156.1 159.6 156.6 150.0 C157.1 140.4 158.4 119.1 158.8 114.0 C159.2 108.9 160.2 97.6 160.5 95.0 C160.8 92.4 162.1 85.4 162.1 85.4 C162.1 85.4 163.5 93.9 164.0 97.0 C164.5 100.1 165.8 109.1 166.0 110.0 C166.2 110.9 167.6 113.0 167.6 113.0 C167.6 113.0 168.7 108.8 169.0 108.0 C169.3 107.2 170.5 105.2 170.5 105.2 C170.5 105.2 171.7 112.4 172.0 115.0 C172.3 117.6 172.9 124.0 173.2 127.3 C173.5 130.6 174.5 143.9 174.9 150.0 C175.3 156.1 176.9 185.2 177.6 194.0 C178.3 202.8 180.2 220.8 180.9 227.0 C181.6 233.2 183.3 244.6 184.2 250.0 C185.1 255.4 187.1 264.7 188.0 270.0 C188.9 275.3 191.0 288.3 192.0 295.0 C193.0 301.7 195.0 317.4 196.0 325.0 C197.0 332.6 199.6 353.5 199.6 353.5 C199.6 353.5 201.0 328.9 201.5 320.0 C202.0 311.1 203.4 288.0 204.0 280.0 C204.6 272.0 206.4 256.1 207.0 250.0 C207.6 243.9 209.1 230.2 209.5 227.0 C209.9 223.8 211.0 218.2 211.3 215.0 C211.6 211.8 213.1 193.7 213.5 186.0 C213.9 178.3 216.6 124.0 216.8 120.0 C217.0 116.0 217.8 106.9 218.0 105.0 C218.2 103.1 219.5 98.0 219.5 98.0 C219.5 98.0 220.7 100.2 221.0 101.0 C221.3 101.8 222.0 104.1 222.3 105.2 C222.6 106.3 224.1 110.8 224.5 112.7 C224.9 114.6 225.4 118.0 225.6 120.0 C225.8 122.0 227.1 134.7 227.4 140.0 C227.7 145.3 228.4 167.0 228.9 175.0 C229.4 183.0 230.4 197.5 231.1 205.0 C231.8 212.5 233.2 225.6 234.4 233.0 C235.6 240.4 238.3 254.6 239.9 261.7 C241.5 268.8 245.2 284.1 246.5 288.0 C247.8 291.9 252.1 298.0 253.2 302.0 C254.3 306.0 256.7 321.4 257.6 328.5 C258.5 335.6 260.2 358.2 260.2 358.2 C260.2 358.2 261.6 337.5 262.0 330.0 C262.4 322.5 263.6 291.1 264.2 277.0 C264.8 262.9 265.8 232.0 266.4 220.0 C267.0 208.0 269.0 187.0 269.7 175.0 C270.4 163.0 271.4 139.3 271.9 130.0 C272.4 120.7 273.8 100.3 274.1 95.0 C274.4 89.7 275.3 77.0 275.5 75.0 C275.7 73.0 276.3 67.5 276.3 67.5 C276.3 67.5 277.1 73.0 277.3 75.0 C277.5 77.0 278.2 91.5 278.5 95.0 C278.8 98.5 279.9 104.5 280.5 108.0 C281.1 111.5 282.6 119.8 282.9 121.5 C283.2 123.2 283.9 126.2 284.0 128.0 C284.1 129.8 285.1 151.5 285.5 160.0 C285.9 168.5 286.6 192.5 287.0 200.0 C287.4 207.5 288.8 222.5 289.5 228.0 C290.2 233.5 292.0 243.8 292.8 248.5 C293.6 253.2 294.8 261.4 296.1 266.0 C297.4 270.6 300.7 279.1 302.7 283.7 C304.7 288.3 309.0 296.1 311.2 300.7 C313.4 305.3 318.3 315.0 320.0 320.5 C321.7 326.0 323.9 338.8 325.0 345.0 C326.1 351.2 328.4 368.4 328.4 368.4 C328.4 368.4 330.5 349.8 331.0 343.0 C331.5 336.2 332.5 318.8 332.8 310.0 C333.1 301.2 332.9 280.7 333.2 270.0 C333.5 259.3 334.9 237.0 335.4 225.0 C335.9 213.0 337.1 182.0 337.6 170.0 C338.1 158.0 339.2 130.1 339.5 125.0 C339.8 119.9 341.0 106.0 341.0 106.0 C341.0 106.0 342.0 114.8 342.3 118.0 C342.6 121.2 343.0 129.7 343.2 134.0 C343.4 138.3 344.8 180.3 345.4 192.0 C346.0 203.7 348.2 229.3 348.7 236.0 C349.2 242.7 350.2 255.1 350.9 261.0 C351.6 266.9 353.2 278.7 354.2 283.0 C355.2 287.3 358.0 294.5 359.7 298.5 C361.4 302.5 367.0 313.4 368.5 316.0 C370.0 318.6 373.5 322.6 375.1 324.9 C376.7 327.2 379.9 331.0 380.6 333.7 C381.3 336.4 382.8 355.0 382.8 355.0 C382.8 355.0 383.7 336.7 384.0 330.0 C384.3 323.3 385.1 300.7 385.5 290.0 C385.9 279.3 386.7 258.0 387.0 250.0 C387.3 242.0 387.6 228.0 387.9 220.0 C388.2 212.0 389.6 187.0 390.1 175.0 C390.6 163.0 391.3 136.5 391.6 128.0 C391.9 119.5 393.0 98.2 393.2 96.0 C393.4 93.8 394.2 90.1 394.4 88.0 C394.6 85.9 395.0 74.5 395.1 73.0 C395.2 71.5 396.1 67.6 396.1 67.6 C396.1 67.6 397.4 85.5 397.7 92.0 C398.0 98.5 398.6 121.3 399.0 128.0 C399.4 134.7 400.6 146.3 401.1 153.0 C401.6 159.7 402.9 177.2 403.3 186.0 C403.7 194.8 403.9 214.9 404.4 222.0 C404.9 229.1 406.9 242.6 407.7 248.5 C408.5 254.4 410.6 268.6 411.0 270.5 C411.4 272.4 413.4 276.1 414.3 277.0 C415.2 277.9 417.9 277.3 418.7 278.2 C419.5 279.1 422.8 285.4 424.3 288.0 C425.8 290.6 428.9 297.0 430.9 300.0 C432.9 303.0 439.0 309.0 440.8 313.0 C442.6 317.0 445.8 332.9 445.8 332.9 C445.8 332.9 447.1 310.2 447.4 302.0 C447.7 293.8 448.1 271.2 448.2 260.0 C448.3 248.8 448.4 213.3 448.5 200.0 C448.6 186.7 448.8 159.1 449.0 150.0 C449.2 140.9 450.3 122.4 450.7 116.0 C451.1 109.6 452.3 94.9 452.5 92.0 C452.7 89.1 453.6 81.3 453.6 81.3 C453.6 81.3 454.7 91.3 455.0 95.0 C455.3 98.7 455.8 107.3 456.2 111.7 C456.6 116.1 458.0 128.8 458.5 135.0 C459.0 141.2 460.1 156.3 460.6 164.0 C461.1 171.7 462.4 198.9 462.8 205.0 C463.2 211.1 464.4 221.9 465.0 228.0 C465.6 234.1 467.5 252.4 468.3 257.0 C469.1 261.6 471.7 271.2 472.7 274.0 C473.7 276.8 477.3 283.0 478.0 284.0 C478.7 285.0 480.2 286.5 481.2 287.2 C482.2 287.9 486.0 289.7 487.6 290.8 C489.2 291.9 493.7 294.7 495.4 296.3 C497.1 297.9 500.0 300.9 500.9 303.0 C501.8 305.1 503.0 315.0 503.0 315.0 C503.0 315.0 505.5 307.0 505.7 304.0 C505.9 301.0 507.1 269.0 507.5 260.0 C507.9 251.0 508.7 235.4 509.0 226.4 C509.3 217.4 509.8 188.0 510.0 180.0 C510.2 172.0 510.8 154.7 511.0 150.0 C511.2 145.3 512.1 132.5 512.1 132.5 C512.1 132.5 513.3 138.0 513.5 140.0 C513.7 142.0 515.6 164.2 516.3 173.0 C517.0 181.8 519.3 211.5 519.6 215.0 C519.9 218.5 520.1 224.5 520.5 228.0 C520.9 231.5 522.4 243.2 523.1 248.0 C523.8 252.8 525.6 263.8 526.0 266.0 C526.4 268.2 527.8 272.1 528.4 274.0 C529.0 275.9 530.2 279.8 531.0 281.0 C531.8 282.2 534.0 284.4 535.3 284.5 C536.6 284.6 539.3 282.6 540.6 282.0 C541.9 281.4 544.3 280.2 545.5 279.8 C546.7 279.4 549.0 278.7 550.3 278.8 C551.6 278.9 555.3 280.1 557.0 281.0 C558.7 281.9 563.5 285.5 563.5 285.5 C563.5 285.5 565.8 281.6 566.0 280.0 C566.2 278.4 567.5 248.0 568.0 240.0 C568.5 232.0 569.7 213.4 570.0 210.0 C570.3 206.6 571.9 197.2 571.9 197.2 C571.9 197.2 573.1 201.4 573.5 203.0 C573.9 204.6 575.8 212.4 576.4 215.9 C577.0 219.4 579.7 238.1 580.3 242.3 C580.9 246.5 582.4 258.0 582.4 258.0" fill="none" stroke="#69bc45" stroke-width="3.2" stroke-linejoin="round" stroke-linecap="butt"/>
<path d="M83.3 322.0 C83.3 322.0 84.6 355.0 84.6 355.0 C84.6 355.0 86.5 327.5 87.0 320.0 C87.5 312.5 88.5 297.3 88.9 292.0 C89.3 286.7 90.3 275.8 91.0 272.0 C91.7 268.2 94.2 260.9 95.1 258.0 C96.0 255.1 97.6 249.9 98.4 247.0 C99.2 244.1 100.6 238.9 101.3 236.0 C102.0 233.1 103.1 228.0 103.5 225.0 C103.9 222.0 105.0 210.9 105.3 208.0 C105.6 205.1 106.3 198.5 106.5 197.0 C106.7 195.5 107.7 191.5 107.7 191.5 C107.7 191.5 109.5 196.2 110.0 198.0 C110.5 199.8 111.9 205.0 112.5 207.0 C113.1 209.0 115.2 214.4 115.2 214.4 C115.2 214.4 116.8 209.6 117.5 208.0 C118.2 206.4 120.2 202.0 120.2 202.0 C120.2 202.0 122.0 205.6 122.5 207.0 C123.0 208.4 124.4 212.8 124.9 215.0 C125.4 217.2 127.8 229.4 128.5 232.9 C129.2 236.4 130.8 242.5 131.5 246.0 C132.2 249.5 134.4 262.1 135.3 268.0 C136.2 273.9 138.8 291.9 139.7 300.7 C140.6 309.5 143.0 346.0 143.0 346.0 C143.0 346.0 144.9 326.9 145.5 320.0 C146.1 313.1 147.0 298.0 147.5 290.0 C148.0 282.0 148.9 263.3 149.5 255.0 C150.1 246.7 151.3 229.7 152.2 224.0 C153.1 218.3 156.5 206.0 157.7 203.0 C158.9 200.0 163.0 194.7 164.3 193.0 C165.6 191.3 168.8 189.2 169.9 187.4 C171.0 185.6 172.7 178.6 172.7 178.6 C172.7 178.6 174.7 194.8 175.4 200.7 C176.1 206.6 177.2 220.7 178.2 228.0 C179.2 235.3 181.4 248.9 183.0 256.4 C184.6 263.9 190.0 282.2 191.9 291.7 C193.8 301.2 196.7 323.9 197.4 330.0 C198.1 336.1 198.9 352.9 198.9 352.9 C198.9 352.9 201.4 339.0 202.0 335.0 C202.6 331.0 203.7 324.0 204.0 320.0 C204.3 316.0 204.7 302.4 205.1 296.0 C205.5 289.6 207.9 258.9 208.4 252.0 C208.9 245.1 210.0 231.0 210.6 226.0 C211.2 221.0 213.1 210.9 213.9 207.3 C214.7 203.7 217.9 194.0 217.9 194.0 C217.9 194.0 220.7 202.8 221.4 204.0 C222.1 205.2 224.8 206.2 225.2 207.5 C225.6 208.8 228.1 223.0 228.9 228.6 C229.7 234.2 232.4 257.5 233.3 261.7 C234.2 265.9 237.0 273.7 238.8 277.0 C240.6 280.3 246.1 286.1 247.6 288.0 C249.1 289.9 252.2 292.8 253.0 295.0 C253.8 297.2 257.7 311.3 258.7 317.4 C259.7 323.5 262.0 351.6 262.0 351.6 C262.0 351.6 263.7 324.8 264.2 315.0 C264.7 305.2 265.7 276.9 266.0 270.0 C266.3 263.1 266.7 250.9 267.0 244.0 C267.3 237.1 268.1 219.9 268.6 215.0 C269.1 210.1 270.9 201.7 271.9 197.0 C272.9 192.3 275.8 179.5 275.8 179.5 C275.8 179.5 279.9 193.6 280.7 197.0 C281.5 200.4 282.4 206.5 283.0 210.0 C283.6 213.5 284.6 219.5 285.1 223.0 C285.6 226.5 287.5 243.2 288.4 248.5 C289.3 253.8 291.8 265.0 292.8 268.3 C293.8 271.6 296.8 277.5 298.0 280.0 C299.2 282.5 301.8 287.1 303.0 289.0 C304.2 290.9 306.8 294.0 308.0 296.0 C309.2 298.0 313.8 305.8 315.6 309.5 C317.4 313.2 321.1 320.6 322.2 324.9 C323.3 329.2 324.5 340.5 325.0 345.0 C325.5 349.5 326.2 361.8 326.2 361.8 C326.2 361.8 327.3 345.8 327.6 340.0 C327.9 334.2 328.9 310.7 329.3 300.0 C329.7 289.3 330.1 270.7 330.3 260.0 C330.5 249.3 330.8 225.7 331.2 214.0 C331.6 202.3 333.2 176.7 333.6 170.0 C334.0 163.3 334.9 151.7 335.4 145.0 C335.9 138.3 336.7 123.0 337.0 120.0 C337.3 117.0 338.7 108.7 338.7 108.7 C338.7 108.7 340.2 117.0 340.5 120.0 C340.8 123.0 341.6 138.3 342.0 145.0 C342.4 151.7 342.9 163.3 343.2 170.0 C343.5 176.7 344.9 204.4 345.4 214.0 C345.9 223.6 347.1 245.2 347.6 250.0 C348.1 254.8 349.9 264.5 350.9 267.6 C351.9 270.7 355.3 277.1 356.4 278.6 C357.5 280.1 360.9 281.4 361.9 283.0 C362.9 284.6 365.2 291.0 366.3 294.0 C367.4 297.0 371.4 310.7 372.9 313.9 C374.4 317.1 379.7 323.9 380.6 324.9 C381.5 325.9 384.7 325.7 385.0 327.0 C385.3 328.3 386.8 355.0 386.8 355.0 C386.8 355.0 387.1 309.1 387.3 300.0 C387.5 290.9 388.2 274.8 388.6 266.0 C389.0 257.2 389.7 241.8 390.1 233.0 C390.5 224.2 391.2 208.8 391.7 200.0 C392.2 191.2 393.5 169.9 393.9 164.0 C394.3 158.1 395.0 145.4 395.2 142.0 C395.4 138.6 396.3 129.3 396.3 129.3 C396.3 129.3 397.1 138.6 397.3 142.0 C397.5 145.4 398.0 158.1 398.3 164.0 C398.6 169.9 399.6 194.1 400.0 200.0 C400.4 205.9 401.3 216.1 401.8 222.0 C402.3 227.9 403.4 238.1 404.0 244.0 C404.6 249.9 405.9 261.8 406.6 266.0 C407.3 270.2 409.4 279.5 410.0 281.5 C410.6 283.5 411.8 287.2 413.2 288.8 C414.6 290.4 420.0 292.5 422.0 294.5 C424.0 296.5 428.8 303.5 430.9 306.4 C433.0 309.3 437.5 314.0 438.6 317.4 C439.7 320.8 441.9 339.5 441.9 339.5 C441.9 339.5 443.2 320.1 443.6 313.0 C444.0 305.9 444.9 290.1 445.2 285.0 C445.5 279.9 446.1 271.1 446.3 266.0 C446.5 260.9 447.1 241.8 447.4 233.0 C447.7 224.2 448.3 208.8 448.7 200.0 C449.1 191.2 450.5 168.3 450.7 164.0 C450.9 159.7 451.4 150.5 451.6 148.0 C451.8 145.5 452.4 138.5 452.4 138.5 C452.4 138.5 453.2 145.5 453.4 148.0 C453.6 150.5 454.5 159.7 454.7 164.0 C454.9 168.3 456.0 193.5 456.2 197.0 C456.4 200.5 457.4 206.5 457.7 210.0 C458.0 213.5 458.8 227.1 459.5 233.0 C460.2 238.9 462.2 251.5 462.8 255.0 C463.4 258.5 465.1 266.3 465.6 268.0 C466.1 269.7 467.5 272.5 468.3 274.0 C469.1 275.5 471.0 278.5 472.2 280.0 C473.4 281.5 478.0 286.2 479.9 288.6 C481.8 291.0 485.7 297.1 487.6 299.6 C489.5 302.1 493.8 305.8 495.4 308.5 C497.0 311.2 499.9 319.9 500.5 322.0 C501.1 324.1 501.8 330.0 501.8 330.0 C501.8 330.0 502.7 308.0 503.0 300.0 C503.3 292.0 504.1 265.5 504.5 252.9 C504.9 240.3 506.1 206.4 506.3 200.0 C506.5 193.6 506.8 181.6 507.1 176.0 C507.4 170.4 508.3 157.5 508.5 155.0 C508.7 152.5 509.5 145.7 509.5 145.7 C509.5 145.7 510.3 152.5 510.5 155.0 C510.7 157.5 511.2 170.4 511.6 176.0 C512.0 181.6 513.0 194.4 513.5 200.0 C514.0 205.6 514.9 215.4 515.6 221.0 C516.3 226.6 518.7 242.8 519.5 247.6 C520.3 252.4 522.8 263.4 523.4 265.4 C524.0 267.4 525.8 271.3 526.5 272.5 C527.2 273.7 529.0 275.5 530.0 276.5 C531.0 277.5 535.8 281.3 538.0 283.0 C540.2 284.7 545.3 288.8 547.6 290.3 C549.9 291.8 555.0 294.6 556.4 295.6 C557.8 296.6 560.2 298.5 561.0 300.0 C561.8 301.5 564.0 309.5 564.0 309.5 C564.0 309.5 565.3 298.1 565.5 294.0 C565.7 289.9 566.8 259.8 567.3 250.0 C567.8 240.2 569.6 215.9 569.8 213.2 C570.0 210.5 571.1 203.0 571.1 203.0 C571.1 203.0 572.0 209.6 572.3 212.0 C572.6 214.4 573.2 222.6 573.7 226.4 C574.2 230.2 576.9 248.6 577.7 252.9 C578.5 257.2 581.4 267.6 581.7 268.7 C582.0 269.8 582.4 272.7 582.4 272.7" fill="none" stroke="#664bae" stroke-width="3.2" stroke-linejoin="round" stroke-linecap="butt"/>
<text x="333.0" y="453.0" font-size="22.5" text-anchor="middle" font-style="italic">X/D</text>
<text transform="translate(13.5 207.0) rotate(-90)" font-size="22.5" text-anchor="middle" font-style="italic">Nu</text>
<circle cx="479.3" cy="26.3" r="3.95" fill="#fff" stroke="#111" stroke-width="2"/>
<line x1="462" y1="47.0" x2="496.7" y2="47.0" stroke="#9f7bc6" stroke-width="3.3"/>
<line x1="462" y1="67.5" x2="496.7" y2="67.5" stroke="#f47d1e" stroke-width="3.3"/>
<line x1="462" y1="87.9" x2="496.7" y2="87.9" stroke="#69bc45" stroke-width="3.3"/>
<line x1="462" y1="108.5" x2="496.7" y2="108.5" stroke="#664bae" stroke-width="3.3"/>
<text x="500.3" y="31.3" font-size="15.7">EXP.[19]</text>
<text x="500.3" y="51.7" font-size="15.7"><tspan font-style="italic">k</tspan>-ε</text>
<text x="500.3" y="72.2" font-size="15.7">RNG <tspan font-style="italic">k</tspan>-ε</text>
<text x="500.3" y="92.6" font-size="15.7"><tspan font-style="italic">k</tspan>-ω</text>
<text x="500.3" y="113.2" font-size="15.7">SST <tspan font-style="italic">k</tspan>-ω</text>
</svg></body></html>
